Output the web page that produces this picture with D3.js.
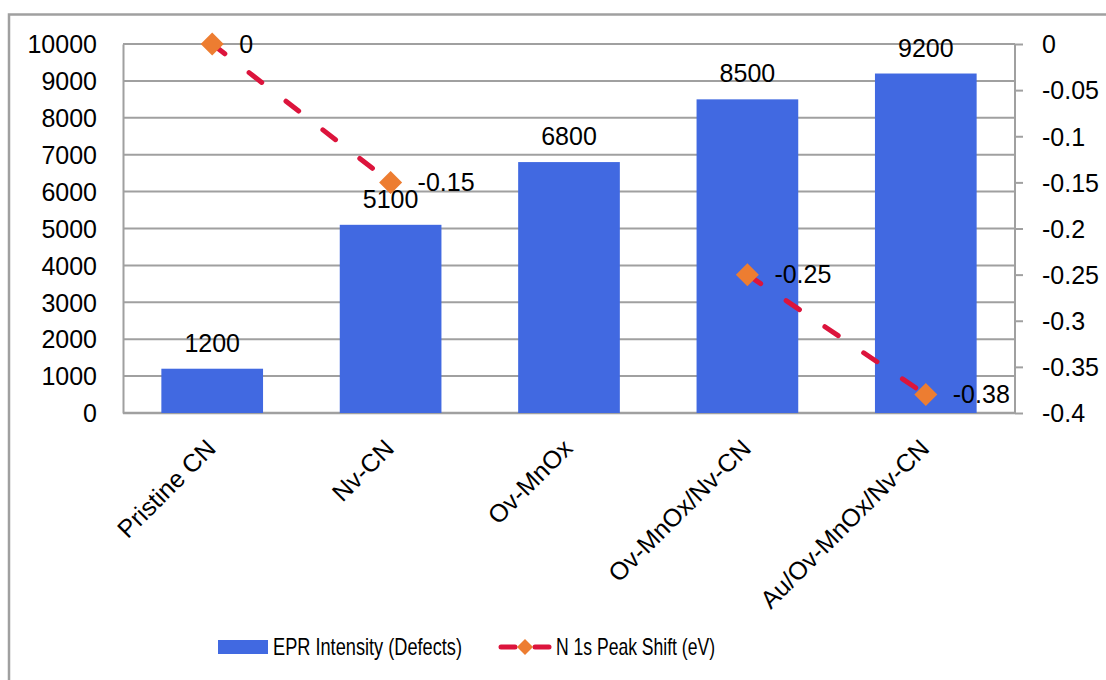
<!DOCTYPE html>
<html>
<head>
<meta charset="utf-8">
<script src="https://cdn.jsdelivr.net/npm/d3@7"></script>
<style>
  html, body { margin: 0; padding: 0; background: #fff; }
  svg { display: block; }
  .tick-label { font-family: "Liberation Sans", Arial, sans-serif; font-size: 25px; fill: #000; }
  .legend-label { font-family: "Liberation Sans", Arial, sans-serif; font-size: 24px; fill: #000; }
</style>
</head>
<body>
<svg id="chart" width="1106" height="680"></svg>
<script>
// Samples and measured values
const categories = ["Pristine CN", "Nv-CN", "Ov-MnOx", "Ov-MnOx/Nv-CN", "Au/Ov-MnOx/Nv-CN"];
const eprIntensity = [1200, 5100, 6800, 8500, 9200];
const peakShift = [0, -0.15, null, -0.25, -0.38];
const leftTicks = [0, 1000, 2000, 3000, 4000, 5000, 6000, 7000, 8000, 9000, 10000];
const rightTicks = [0, -0.05, -0.1, -0.15, -0.2, -0.25, -0.3, -0.35, -0.4];
const seriesNames = ["EPR Intensity (Defects)", "N 1s Peak Shift (eV)"];

const svg = d3.select("#chart");
const plot = { left: 123, right: 1015, top: 44, bottom: 413 };
const gridColor = "#a0a0a0";
const barColor = "#4169E1";
const lineColor = "#DC143C";
const markerColor = "#ED7D31";

// chart frame
svg.append("rect")
  .attr("x", 9).attr("y", 14.5)
  .attr("width", 1200).attr("height", 800)
  .attr("fill", "none").attr("stroke", gridColor).attr("stroke-width", 2.5);

const x = d3.scaleBand()
  .domain(categories)
  .range([plot.left, plot.right])
  .paddingInner(0.43)
  .paddingOuter(0.215);

const yLeft = d3.scaleLinear().domain([0, 10000]).range([plot.bottom, plot.top]);
const yRight = d3.scaleLinear().domain([-0.4, 0]).range([plot.bottom, plot.top]);

// horizontal gridlines
svg.append("g")
  .selectAll("line")
  .data(leftTicks)
  .join("line")
  .attr("x1", plot.left).attr("x2", plot.right)
  .attr("y1", d => yLeft(d)).attr("y2", d => yLeft(d))
  .attr("stroke", gridColor).attr("stroke-width", 2);

// left axis
const leftAxis = d3.axisLeft(yLeft).tickValues(leftTicks).tickSize(0).tickPadding(26)
  .tickFormat(d => String(d));
const gL = svg.append("g").attr("transform", `translate(${plot.left},0)`).call(leftAxis);
gL.select(".domain").attr("stroke", gridColor).attr("stroke-width", 2);
gL.selectAll("text").attr("class", "tick-label").attr("font-family", null).attr("font-size", null).attr("dy", "0.35em");

// right axis
const rightAxis = d3.axisRight(yRight).tickValues(rightTicks).tickSize(8).tickPadding(19)
  .tickFormat(d => String(+d.toFixed(2)));
const gR = svg.append("g").attr("transform", `translate(${plot.right},0)`).call(rightAxis);
gR.select(".domain").attr("stroke", gridColor).attr("stroke-width", 2).attr("d", `M0,${plot.top}V${plot.bottom}`);
gR.selectAll(".tick line").attr("stroke", gridColor).attr("stroke-width", 2);
gR.selectAll("text").attr("class", "tick-label").attr("font-family", null).attr("font-size", null).attr("dy", "0.35em");

// bottom axis line
svg.append("line")
  .attr("x1", plot.left).attr("x2", plot.right)
  .attr("y1", plot.bottom).attr("y2", plot.bottom)
  .attr("stroke", gridColor).attr("stroke-width", 2.5);

// bars
svg.append("g")
  .selectAll("rect")
  .data(categories.map((c, i) => ({ c, v: eprIntensity[i] })))
  .join("rect")
  .attr("x", d => x(d.c))
  .attr("width", x.bandwidth())
  .attr("y", d => yLeft(d.v))
  .attr("height", d => yLeft(0) - yLeft(d.v))
  .attr("fill", barColor);

// bar value labels
svg.append("g")
  .selectAll("text")
  .data(categories.map((c, i) => ({ c, v: eprIntensity[i] })))
  .join("text")
  .attr("class", "tick-label")
  .attr("x", d => x(d.c) + x.bandwidth() / 2)
  .attr("y", d => yLeft(d.v) - 17)
  .attr("text-anchor", "middle")
  .text(d => d.v);

// category labels
svg.append("g")
  .selectAll("text")
  .data(categories)
  .join("text")
  .attr("class", "tick-label")
  .attr("text-anchor", "end")
  .attr("transform", d => `translate(${x(d) + x.bandwidth() / 2 + 5},450) rotate(-45)`)
  .text(d => d);

// peak shift line (gap where no value was measured)
const pts = categories.map((c, i) => ({ c, v: peakShift[i] }));
const line = d3.line()
  .defined(d => d.v !== null)
  .x(d => x(d.c) + x.bandwidth() / 2)
  .y(d => yRight(d.v));

svg.append("path")
  .datum(pts)
  .attr("d", line)
  .attr("fill", "none")
  .attr("stroke", lineColor)
  .attr("stroke-width", 5)
  .attr("stroke-linecap", "round")
  .attr("stroke-dasharray", "16 30.7");

const diamond = (cx, cy, r) => `M${cx},${cy - r}L${cx + r},${cy}L${cx},${cy + r}L${cx - r},${cy}Z`;

const defined = pts.filter(d => d.v !== null);
svg.append("g")
  .selectAll("path")
  .data(defined)
  .join("path")
  .attr("d", d => diamond(x(d.c) + x.bandwidth() / 2, yRight(d.v), 11.5))
  .attr("fill", markerColor);

svg.append("g")
  .selectAll("text")
  .data(defined)
  .join("text")
  .attr("class", "tick-label")
  .attr("x", d => x(d.c) + x.bandwidth() / 2 + 27)
  .attr("y", d => yRight(d.v))
  .attr("dy", "0.35em")
  .text(d => String(d.v));

// legend
const legend = svg.append("g");
legend.append("rect")
  .attr("x", 218).attr("y", 640).attr("width", 50).attr("height", 14)
  .attr("fill", barColor);
legend.append("text")
  .attr("class", "legend-label")
  .attr("x", 273).attr("y", 655)
  .attr("textLength", 189).attr("lengthAdjust", "spacingAndGlyphs")
  .text(seriesNames[0]);

[[501, 515], [535, 549]].forEach(([a, b]) => {
  legend.append("line")
    .attr("x1", a).attr("x2", b).attr("y1", 647).attr("y2", 647)
    .attr("stroke", lineColor).attr("stroke-width", 5).attr("stroke-linecap", "round");
});
legend.append("path")
  .attr("d", diamond(525, 647, 8))
  .attr("fill", markerColor);
legend.append("text")
  .attr("class", "legend-label")
  .attr("x", 556).attr("y", 655)
  .attr("textLength", 159).attr("lengthAdjust", "spacingAndGlyphs")
  .text(seriesNames[1]);
</script>
</body>
</html>
